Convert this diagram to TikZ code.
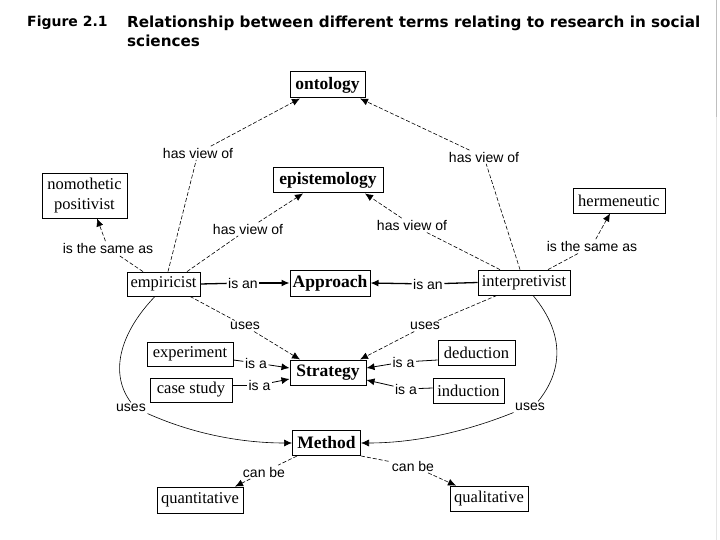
\documentclass[tikz,border=0pt]{standalone}
\usepackage{fontspec}
\setmainfont{Liberation Serif}
\newfontfamily\lblfont{Liberation Sans}
\newfontfamily\titlefont{DejaVu Sans}
\usetikzlibrary{arrows.meta,calc}
\begin{document}
\begin{tikzpicture}[x=1pt,y=-1pt,
  box/.style={draw, line width=0.8pt, inner sep=0pt, font=\fontsize{16.5}{20}\selectfont},
  bbox/.style={draw, line width=1pt, inner sep=0pt, font=\fontsize{17.5}{20}\selectfont\bfseries},
  lbl/.style={inner sep=1.5pt, font=\lblfont\fontsize{14}{16}\selectfont},
  link/.style={line width=0.6pt, dash pattern=on 4pt off 2pt},
  arr/.style={-{Latex[length=8pt,width=7pt]}},
  heavy/.style={line width=1.3pt},
  thinsolid/.style={line width=0.8pt},
  curve/.style={line width=0.6pt},
  ttl/.style={anchor=west, inner sep=0pt, font=\titlefont\bfseries\fontsize{15.2}{18}\selectfont},
  fignum/.style={anchor=west, inner sep=0pt, font=\titlefont\bfseries\fontsize{14}{18}\selectfont}
]
\fill[white] (0,0) rectangle (720,540);
\useasboundingbox (0,0) rectangle (720,540);
\draw[gray!50, line width=1pt] (716.5,0) -- (716.5,117);
\draw[gray!20, line width=1pt] (716.5,117) -- (716.5,540);

% title
\node[fignum] (fig) at (27,23) {Figure 2.1};
\node[ttl] (title1) at (127,23) {Relationship between different terms relating to research in social};
\node[ttl] (title2) at (127,41) {sciences};

% boxes
\node[bbox, minimum width=75pt, minimum height=26pt] (ontology) at (327.5,85) {ontology};
\node[bbox, minimum width=110pt, minimum height=25pt] (epistemology) at (328,180.5) {epistemology};
\node[box, minimum width=85pt, minimum height=45pt, align=center] (nomothetic) at (84.5,195.5) {nomothetic\\positivist};
\node[box, minimum width=92pt, minimum height=25pt] (hermeneutic) at (619,200.5) {hermeneutic};
\node[box, minimum width=73pt, minimum height=24pt] (empiricist) at (163.5,284) {empiricist};
\node[bbox, minimum width=80pt, minimum height=26pt] (Approach) at (330,283) {Approach};
\node[box, minimum width=92pt, minimum height=25pt] (interpretivist) at (524,282.5) {interpretivist};
\node[box, minimum width=86pt, minimum height=24pt] (experiment) at (190,354) {experiment};
\node[box, minimum width=82pt, minimum height=24pt] (casestudy) at (191,390) {case study};
\node[bbox, minimum width=76pt, minimum height=25pt] (Strategy) at (328,372.5) {Strategy};
\node[box, minimum width=77pt, minimum height=25pt] (deduction) at (476.5,352.5) {deduction};
\node[box, minimum width=71pt, minimum height=25pt] (induction) at (468.5,390.5) {induction};
\node[bbox, minimum width=68pt, minimum height=25pt] (Method) at (326.5,443) {Method};
\node[box, minimum width=86pt, minimum height=26pt] (quantitative) at (200,500) {quantitative};
\node[box, minimum width=78pt, minimum height=25pt] (qualitative) at (489,498.5) {qualitative};

% labels
\node[lbl] (hv1) at (198,153) {has view of};
\node[lbl] (hv2) at (484,157) {has view of};
\node[lbl] (hv3) at (248,229) {has view of};
\node[lbl] (hv4) at (412,225) {has view of};
\node[lbl] (sameL) at (108,248) {is the same as};
\node[lbl] (sameR) at (592,246) {is the same as};
\node[lbl] (isanL) at (243,283) {is an};
\node[lbl] (isanR) at (428,284) {is an};
\node[lbl] (usesL1) at (245,326) {uses};
\node[lbl] (usesR1) at (425,326) {uses};
\node[lbl] (isa1) at (256,363) {is a};
\node[lbl] (isa2) at (259.5,385) {is a};
\node[lbl] (isa3) at (403.5,362) {is a};
\node[lbl] (isa4) at (406,389) {is a};
\node[lbl] (usesL2) at (131,408) {uses};
\node[lbl] (usesR2) at (530,407) {uses};
\node[lbl] (canbe1) at (264,472) {can be};
\node[lbl] (canbe2) at (413,466) {can be};

% has view of
\draw[link] ($(empiricist.north)+(4.5,0)$) -- (hv1);
\draw[link,arr] (hv1) -- ($(ontology.south)+(-27.5,0)$);
\draw[link] ($(interpretivist.north)+(-4,0)$) -- (hv2);
\draw[link,arr] (hv2) -- ($(ontology.south)+(32.5,0)$);
\draw[link] ($(empiricist.north)+(23.5,0)$) -- (hv3);
\draw[link,arr] (hv3) -- ($(epistemology.south)+(-25,0)$);
\draw[link] ($(interpretivist.north)+(-24,0)$) -- (hv4);
\draw[link,arr] (hv4) -- ($(epistemology.south)+(37,0)$);
% is the same as
\draw[link] ($(empiricist.north)+(-20.5,0)$) -- (sameL);
\draw[link,arr] (sameL) -- ($(nomothetic.south)+(12.5,0)$);
\draw[link] ($(interpretivist.north)+(24,0)$) -- (sameR);
\draw[link,arr] (sameR) -- ($(hermeneutic.south)+(-9,0)$);
% is an
\draw[heavy] (empiricist.east) -- (isanL);
\draw[heavy,arr] (isanL) -- (Approach.west);
\draw[heavy] (interpretivist.west) -- (isanR);
\draw[heavy,arr] (isanR) -- (Approach.east);
% uses -> Strategy
\draw[link] ($(empiricist.south)+(26.5,0)$) -- (usesL1);
\draw[link,arr] (usesL1) -- ($(Strategy.north)+(-28,0)$);
\draw[link] ($(interpretivist.south)+(-27,0)$) -- (usesR1);
\draw[link,arr] (usesR1) -- ($(Strategy.north)+(32,0)$);
% is a
\draw[thinsolid] ($(experiment.east)+(0,6)$) -- (isa1);
\draw[thinsolid,arr] (isa1) -- ($(Strategy.west)+(0,-4.5)$);
\draw[thinsolid] ($(casestudy.east)+(0,-5)$) -- (isa2);
\draw[thinsolid,arr] (isa2) -- ($(Strategy.west)+(0,6.5)$);
\draw[thinsolid] ($(deduction.west)+(0,7.5)$) -- (isa3);
\draw[thinsolid,arr] (isa3) -- ($(Strategy.east)+(0,-4.5)$);
\draw[thinsolid] ($(induction.west)+(0,-2.5)$) -- (isa4);
\draw[thinsolid,arr] (isa4) -- ($(Strategy.east)+(0,7.5)$);
% uses -> Method (curves)
\draw[curve] ($(empiricist.south)+(-8.5,0)$) .. controls (118,335) and (110,375) .. (usesL2.north);
\draw[curve,arr] (usesL2.south east) .. controls (200,437) and (250,443) .. (Method.west);
\draw[curve] ($(interpretivist.south)+(9,0)$) .. controls (566,335) and (562,372) .. ($(usesR2.north)+(8,0)$);
\draw[curve,arr] (usesR2.south west) .. controls (460,434) and (410,443) .. (Method.east);
% can be
\draw[link] ($(Method.south)+(-29.5,0)$) -- (canbe1);
\draw[link,arr] (canbe1) -- ($(quantitative.north)+(35,0)$);
\draw[link] (Method.south east) -- (canbe2);
\draw[link,arr] (canbe2) -- ($(qualitative.north)+(-33,0)$);
\end{tikzpicture}
\end{document}
